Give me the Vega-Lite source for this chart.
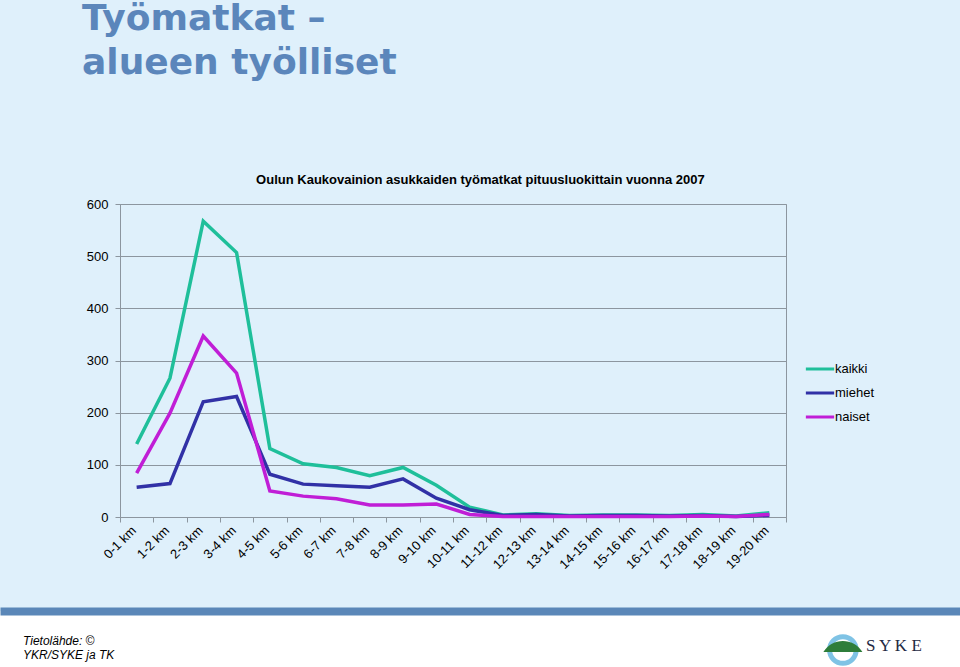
{
  "$schema": "https://vega.github.io/schema/vega-lite/v6.json",
  "background": "#DFF0FB",
  "padding": 0,
  "config": {"view": {"stroke": null}, "font": "Liberation Sans"},
  "title": {
    "text": ["Työmatkat –", "alueen työlliset"],
    "anchor": "start", "frame": "group", "dx": 82,
    "font": "DejaVu Sans", "fontWeight": "bold", "fontSize": 36, "lineHeight": 44,
    "color": "#5B86BB", "offset": 92, "baseline": "top"
  },
  "spacing": 39,
  "vconcat": [
    {
      "spacing": 0,
      "hconcat": [
        {
          "width": 85,
          "height": 10,
          "data": {"values": [{"tyhja": ""}]},
          "mark": {"type": "text"},
          "encoding": {"text": {"field": "tyhja"}}
        },
        {
          "width": 666,
          "height": 313,
          "title": {
            "text": "Oulun Kaukovainion asukkaiden työmatkat pituusluokittain vuonna 2007",
            "anchor": "middle", "frame": "bounds", "fontSize": 13, "fontWeight": "bold",
            "font": "Liberation Sans", "color": "black", "offset": 11, "dx": 44
          },
          "view": {"stroke": "#8C969F", "strokeWidth": 1},
          "data": {"values": [
            {"luokka": "0-1 km", "sarja": "kaikki", "arvo": 140},
            {"luokka": "1-2 km", "sarja": "kaikki", "arvo": 266},
            {"luokka": "2-3 km", "sarja": "kaikki", "arvo": 567},
            {"luokka": "3-4 km", "sarja": "kaikki", "arvo": 507},
            {"luokka": "4-5 km", "sarja": "kaikki", "arvo": 131},
            {"luokka": "5-6 km", "sarja": "kaikki", "arvo": 102},
            {"luokka": "6-7 km", "sarja": "kaikki", "arvo": 95},
            {"luokka": "7-8 km", "sarja": "kaikki", "arvo": 79},
            {"luokka": "8-9 km", "sarja": "kaikki", "arvo": 95},
            {"luokka": "9-10 km", "sarja": "kaikki", "arvo": 61},
            {"luokka": "10-11 km", "sarja": "kaikki", "arvo": 19},
            {"luokka": "11-12 km", "sarja": "kaikki", "arvo": 4},
            {"luokka": "12-13 km", "sarja": "kaikki", "arvo": 6},
            {"luokka": "13-14 km", "sarja": "kaikki", "arvo": 3},
            {"luokka": "14-15 km", "sarja": "kaikki", "arvo": 4},
            {"luokka": "15-16 km", "sarja": "kaikki", "arvo": 4},
            {"luokka": "16-17 km", "sarja": "kaikki", "arvo": 3},
            {"luokka": "17-18 km", "sarja": "kaikki", "arvo": 5},
            {"luokka": "18-19 km", "sarja": "kaikki", "arvo": 2},
            {"luokka": "19-20 km", "sarja": "kaikki", "arvo": 8},
            {"luokka": "0-1 km", "sarja": "miehet", "arvo": 57},
            {"luokka": "1-2 km", "sarja": "miehet", "arvo": 64},
            {"luokka": "2-3 km", "sarja": "miehet", "arvo": 221},
            {"luokka": "3-4 km", "sarja": "miehet", "arvo": 231},
            {"luokka": "4-5 km", "sarja": "miehet", "arvo": 82},
            {"luokka": "5-6 km", "sarja": "miehet", "arvo": 63},
            {"luokka": "6-7 km", "sarja": "miehet", "arvo": 60},
            {"luokka": "7-8 km", "sarja": "miehet", "arvo": 57},
            {"luokka": "8-9 km", "sarja": "miehet", "arvo": 73},
            {"luokka": "9-10 km", "sarja": "miehet", "arvo": 36},
            {"luokka": "10-11 km", "sarja": "miehet", "arvo": 14},
            {"luokka": "11-12 km", "sarja": "miehet", "arvo": 3},
            {"luokka": "12-13 km", "sarja": "miehet", "arvo": 5},
            {"luokka": "13-14 km", "sarja": "miehet", "arvo": 2},
            {"luokka": "14-15 km", "sarja": "miehet", "arvo": 3},
            {"luokka": "15-16 km", "sarja": "miehet", "arvo": 3},
            {"luokka": "16-17 km", "sarja": "miehet", "arvo": 2},
            {"luokka": "17-18 km", "sarja": "miehet", "arvo": 3},
            {"luokka": "18-19 km", "sarja": "miehet", "arvo": 1},
            {"luokka": "19-20 km", "sarja": "miehet", "arvo": 3},
            {"luokka": "0-1 km", "sarja": "naiset", "arvo": 84},
            {"luokka": "1-2 km", "sarja": "naiset", "arvo": 199},
            {"luokka": "2-3 km", "sarja": "naiset", "arvo": 347},
            {"luokka": "3-4 km", "sarja": "naiset", "arvo": 276},
            {"luokka": "4-5 km", "sarja": "naiset", "arvo": 50},
            {"luokka": "5-6 km", "sarja": "naiset", "arvo": 40},
            {"luokka": "6-7 km", "sarja": "naiset", "arvo": 35},
            {"luokka": "7-8 km", "sarja": "naiset", "arvo": 23},
            {"luokka": "8-9 km", "sarja": "naiset", "arvo": 23},
            {"luokka": "9-10 km", "sarja": "naiset", "arvo": 25},
            {"luokka": "10-11 km", "sarja": "naiset", "arvo": 5},
            {"luokka": "11-12 km", "sarja": "naiset", "arvo": 1},
            {"luokka": "12-13 km", "sarja": "naiset", "arvo": 1},
            {"luokka": "13-14 km", "sarja": "naiset", "arvo": 1},
            {"luokka": "14-15 km", "sarja": "naiset", "arvo": 1},
            {"luokka": "15-16 km", "sarja": "naiset", "arvo": 1},
            {"luokka": "16-17 km", "sarja": "naiset", "arvo": 1},
            {"luokka": "17-18 km", "sarja": "naiset", "arvo": 2},
            {"luokka": "18-19 km", "sarja": "naiset", "arvo": 1},
            {"luokka": "19-20 km", "sarja": "naiset", "arvo": 5}
          ]},
          "mark": {"type": "line", "strokeWidth": 3.5},
          "encoding": {
            "x": {
              "field": "luokka", "type": "nominal", "sort": null, "bandPosition": 0.5,
              "scale": {"type": "band", "paddingInner": 0, "paddingOuter": 0},
              "axis": {
                "title": null, "tickBand": "extent", "ticks": true, "tickSize": 5,
                "tickColor": "#8C969F", "domainColor": "#8C969F", "grid": false,
                "labelAngle": -45, "labelAlign": "right", "labelBaseline": "middle",
                "labelFontSize": 13, "labelColor": "black", "labelPadding": 6,
                "labelOffset": -3, "labelFont": "Liberation Sans"
              }
            },
            "y": {
              "field": "arvo", "type": "quantitative",
              "scale": {"domain": [0, 600]},
              "axis": {
                "title": null, "values": [0, 100, 200, 300, 400, 500, 600],
                "grid": true, "gridColor": "#8C969F", "gridWidth": 1.2,
                "tickColor": "#8C969F", "tickSize": 5, "domainColor": "#8C969F",
                "labelFontSize": 13, "labelColor": "black", "labelPadding": 7,
                "labelFont": "Liberation Sans"
              }
            },
            "color": {
              "field": "sarja", "type": "nominal",
              "scale": {"domain": ["kaikki", "miehet", "naiset"], "range": ["#1FBF9A", "#3131A6", "#C01ED6"]},
              "legend": {
                "title": null, "orient": "none", "legendX": 804, "legendY": 149,
                "symbolType": "stroke", "symbolStrokeWidth": 3, "symbolSize": 800,
                "labelFontSize": 13, "labelColor": "black", "rowPadding": 1,
                "labelOffset": -1, "labelFont": "Liberation Sans"
              }
            }
          }
        }
      ]
    },
    {
      "width": 960,
      "height": 78,
      "view": {"fill": "white", "stroke": null},
      "title": {
        "text": ["Tietolähde: ©", "YKR/SYKE ja TK"],
        "anchor": "start", "frame": "group", "dx": 23, "offset": -51,
        "baseline": "top", "fontSize": 12, "fontStyle": "italic",
        "fontWeight": "normal", "font": "Liberation Sans", "color": "black",
        "lineHeight": 14
      },
      "encoding": {
        "x": {
          "field": "osa", "type": "nominal",
          "scale": {"type": "point", "domain": ["logo"], "padding": 1, "align": 0.878},
          "axis": {
            "orient": "top", "domain": true, "domainWidth": 8, "domainColor": "#5B87B8",
            "labels": false, "ticks": false, "title": null, "grid": false
          }
        }
      },
      "layer": [
        {
          "data": {"values": [{"osa": "logo"}]},
          "mark": {"type": "point", "shape": "circle", "size": 707, "strokeWidth": 5, "stroke": "#7FC3E5", "filled": false, "opacity": 1}
        },
        {
          "data": {"values": [{"osa": "logo"}]},
          "mark": {"type": "point", "shape": "M -1 0.1 C -0.55 -0.65 0.55 -0.65 1 0.1 Z", "size": 1521, "filled": true, "fill": "#2E7D3A", "strokeWidth": 0, "opacity": 1}
        },
        {
          "data": {"values": [{"osa": "logo", "teksti": "S Y K E"}]},
          "mark": {"type": "text", "align": "left", "baseline": "middle", "dx": 23, "dy": -4, "font": "Liberation Serif", "fontSize": 17, "color": "#1F2A44"},
          "encoding": {"text": {"field": "teksti"}}
        }
      ]
    }
  ]
}
